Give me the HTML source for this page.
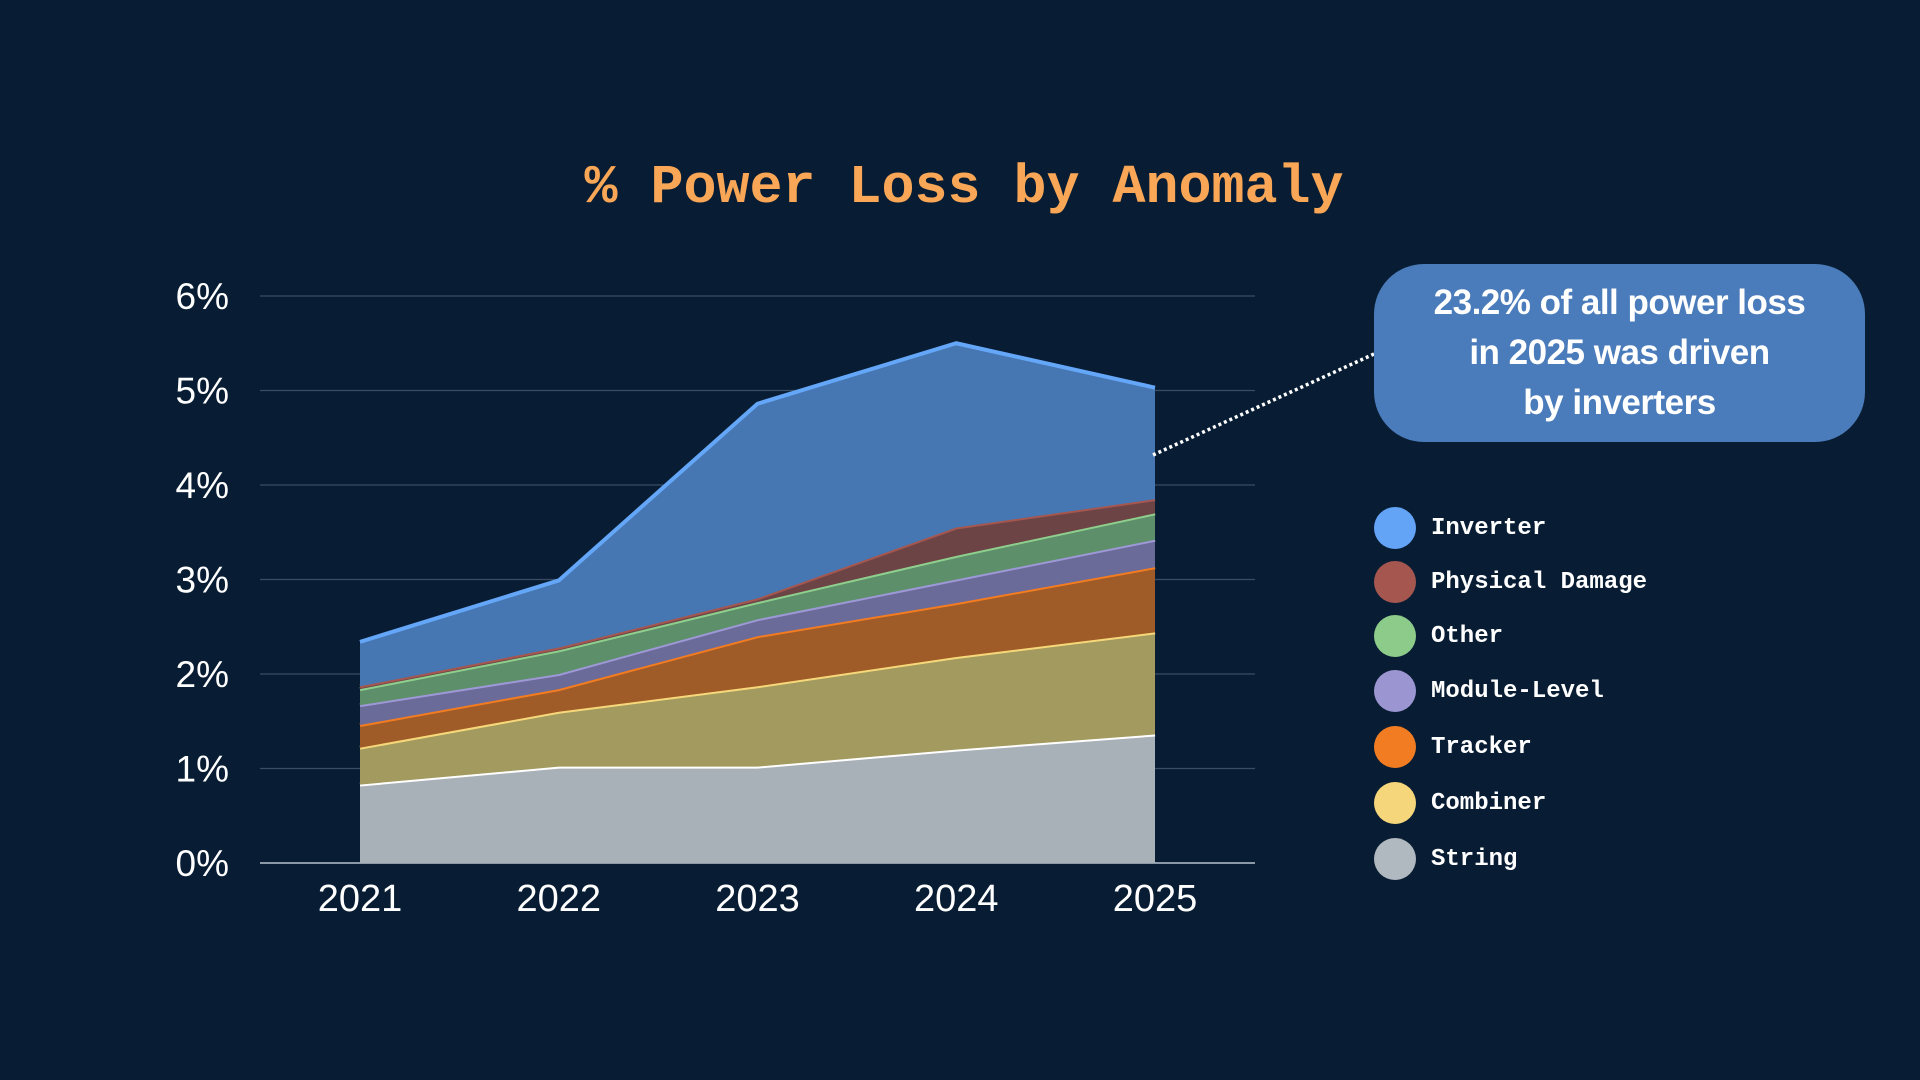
<!DOCTYPE html>
<html><head><meta charset="utf-8"><style>
html,body{margin:0;padding:0;background:#081d33;}
body{width:1920px;height:1080px;position:relative;overflow:hidden;font-family:"Liberation Sans",sans-serif;}
#title{position:absolute;left:0;width:1928px;top:156px;text-align:center;font-family:"Liberation Mono",monospace;font-weight:bold;font-size:55px;color:#f9a656;}
#callout{position:absolute;left:1374px;top:264px;width:491px;height:178px;border-radius:50px;background:#4a7bba;color:#fff;font-weight:bold;font-size:35px;line-height:50px;text-align:center;box-sizing:border-box;padding-top:14px;letter-spacing:-0.5px;}
.leg{position:absolute;left:1374px;height:42px;display:flex;align-items:center;}
.leg .dot{width:42px;height:42px;border-radius:50%;margin-right:15px;}
.leg span{font-family:"Liberation Mono",monospace;font-weight:bold;font-size:24px;color:#fff;}
</style></head><body>
<div id="title">% Power Loss by Anomaly</div>
<svg id="chart" width="1920" height="1080" style="position:absolute;left:0;top:0"></svg>
<div id="callout">23.2% of all power loss<br>in 2025 was driven<br>by inverters</div>
<div id="legend"></div>
<script>
const years = ["2021","2022","2023","2024","2025"];
const yTicks = [0,1,2,3,4,5,6];
const seriesNames = ["String","Combiner","Tracker","Module-Level","Other","Physical Damage","Inverter"];
const stringVals   = [0.83,1.02,1.02,1.20,1.36];
const combinerVals = [0.39,0.58,0.85,0.98,1.08];
const trackerVals  = [0.24,0.24,0.53,0.57,0.69];
const moduleVals   = [0.21,0.16,0.18,0.25,0.29];
const otherVals    = [0.17,0.25,0.18,0.25,0.28];
const physicalVals = [0.03,0.03,0.04,0.30,0.15];
const inverterVals = [0.47,0.71,2.06,1.95,1.18];

const values=[stringVals,combinerVals,trackerVals,moduleVals,otherVals,physicalVals,inverterVals];
const fills=["#a8b0b8","#a39a5f","#a05c28","#6b6b9a","#5c8f6a","#6c4446","#4677b3"];
const strokes=["#ffffff","#f6d87a","#f47c20","#9e98d6","#8fcf8d","#a5574f","#64a6f7"];
const dots=["#b0b8c0","#f5d67a","#f27c22","#9b95d2","#8ccb8a","#a5574f","#63a4f7"];
const NS="http://www.w3.org/2000/svg";
const svg=document.getElementById('chart');
const x=i=>360+i*198.75;
const y=v=>863-v*94.5;
function mk(t,a){const e=document.createElementNS(NS,t);for(const k in a)e.setAttribute(k,a[k]);svg.appendChild(e);return e;}
yTicks.forEach(t=>{
  const g=mk('line',{x1:260,x2:1255,y1:y(t),y2:y(t),stroke:t===0?'#8a98a8':'#3a4d63','stroke-width':t===0?2:1.3});
  
  
  const l=mk('text',{x:229,y:y(t)+13,'text-anchor':'end',fill:'#fff','font-size':37,'font-family':'Liberation Sans, sans-serif'});
  l.textContent=t+'%';
  
  
});
years.forEach((yr,i)=>{
  const l=mk('text',{x:x(i),y:911,'text-anchor':'middle',fill:'#fff','font-size':38,'font-family':'Liberation Sans, sans-serif'});
  l.textContent=yr;
  
  
});
let base=years.map(()=>0);
values.forEach((vals,s)=>{
  const top=vals.map((v,i)=>base[i]+v);
  let d='M'+top.map((v,i)=>x(i)+','+y(v)).join(' L');
  for(let i=years.length-1;i>=0;i--)d+=' L'+x(i)+','+y(base[i]);
  const a=mk('path',{d:d+'Z',fill:fills[s]});
  
  
  const ln=mk('polyline',{points:top.map((v,i)=>x(i)+','+y(v)).join(' '),fill:'none',stroke:strokes[s],'stroke-width':4});
  
  
  base=top;
});
const dl=mk('line',{x1:1153,y1:455,x2:1374,y2:354,stroke:'#fff','stroke-width':3.5,'stroke-dasharray':'3 3'});


const legend=document.getElementById('legend');
const ly=[507,561,615,670,726,782,838];
for(let k=0;k<7;k++){
  const s=6-k;
  const d=document.createElement('div');
  d.className='leg';d.style.top=ly[k]+'px';
  
  
  d.innerHTML='<div class="dot" style="background:'+dots[s]+'"></div><span>'+seriesNames[s]+'</span>';
  legend.appendChild(d);
}
</script>
</body></html>
